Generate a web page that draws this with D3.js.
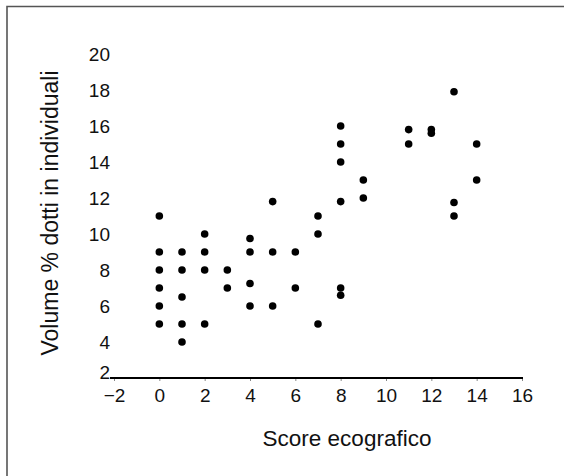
<!DOCTYPE html>
<html>
<head>
<meta charset="utf-8">
<script src="https://cdn.jsdelivr.net/npm/d3@7"></script>
<style>
  body { margin: 0; background: #fff; }
  svg { display: block; font-family: "Liberation Sans", Arial, sans-serif; }
</style>
</head>
<body>
<div class="canvas"></div>
<script>
// score ecografico (x) and volume % (y), one entry per patient
const scores = [
  0, 0, 0, 0, 0, 0,
  1, 1, 1, 1, 1,
  2, 2, 2, 2,
  3, 3,
  4, 4, 4, 4,
  5, 5, 5,
  6, 6,
  7, 7, 7,
  8, 8, 8, 8, 8, 8,
  9, 9,
  11, 11,
  12, 12,
  13, 13, 13,
  14, 14
];
const volumes = [
  11, 9, 8, 7, 6, 5,
  9, 8, 6.5, 5, 4,
  10, 9, 8, 5,
  8, 7,
  9.75, 9, 7.25, 6,
  11.8, 9, 6,
  9, 7,
  11, 10, 5,
  16, 15, 14, 11.8, 7, 6.6,
  13, 12,
  15.8, 15,
  15.8, 15.6,
  17.9, 11.75, 11,
  15, 13
];
const xTicks = [-2, 0, 2, 4, 6, 8, 10, 12, 14, 16];
const yTicks = [2, 4, 6, 8, 10, 12, 14, 16, 18, 20];

const width = 564;
const height = 476;

const svg = d3.select('.canvas')
  .append('svg')
  .attr('width', width)
  .attr('height', height);

// frame (only top and left edges fall inside the picture)
svg.append('path')
  .attr('d', `M7,${height} V6.5 H${width}`)
  .attr('fill', 'none')
  .attr('stroke', '#555')
  .attr('stroke-width', 1.6);

const x = d3.scaleLinear().domain([-2, 16]).range([114, 522]);
const y = d3.scaleLinear().domain([2, 20]).range([378, 54]);

// x axis
const xAxis = svg.append('g')
  .attr('transform', `translate(0, ${y(2)})`)
  .call(d3.axisBottom(x).tickValues(xTicks).tickSize(3).tickPadding(8));

xAxis.select('.domain').remove();
xAxis.append('line')
  .attr('x1', x(-2) - 4)
  .attr('x2', x(16) + 1)
  .attr('stroke', '#000')
  .attr('stroke-width', 2.2);
xAxis.selectAll('.tick line').attr('stroke', '#888');
xAxis.selectAll('.tick text')
  .attr('font-size', 19)
  .attr('fill', '#111');

// y axis: labels only
const yAxis = svg.append('g')
  .attr('transform', `translate(${x(-2)}, 0)`)
  .call(d3.axisLeft(y).tickValues(yTicks).tickSize(0).tickPadding(4));

yAxis.select('.domain').remove();
yAxis.selectAll('.tick text')
  .attr('font-size', 19)
  .attr('fill', '#111');

// the lowest label sits on the x axis line, lift it clear of "-2"
yAxis.selectAll('.tick text')
  .filter(d => d === yTicks[0])
  .attr('dy', '0.05em');

// points
const points = scores.map((s, i) => ({ s, v: volumes[i] }));

svg.append('g')
  .selectAll('circle')
  .data(points)
  .enter()
  .append('circle')
  .attr('cx', d => x(d.s))
  .attr('cy', d => y(d.v))
  .attr('r', 3.8)
  .attr('fill', '#000');

// axis titles
svg.append('text')
  .attr('x', 347)
  .attr('y', 446)
  .attr('text-anchor', 'middle')
  .attr('font-size', 22.5)
  .attr('fill', '#111')
  .text('Score ecografico');

svg.append('text')
  .attr('transform', 'translate(58, 213) rotate(-90)')
  .attr('text-anchor', 'middle')
  .attr('font-size', 23)
  .attr('fill', '#111')
  .text('Volume % dotti in individuali');
</script>
</body>
</html>
